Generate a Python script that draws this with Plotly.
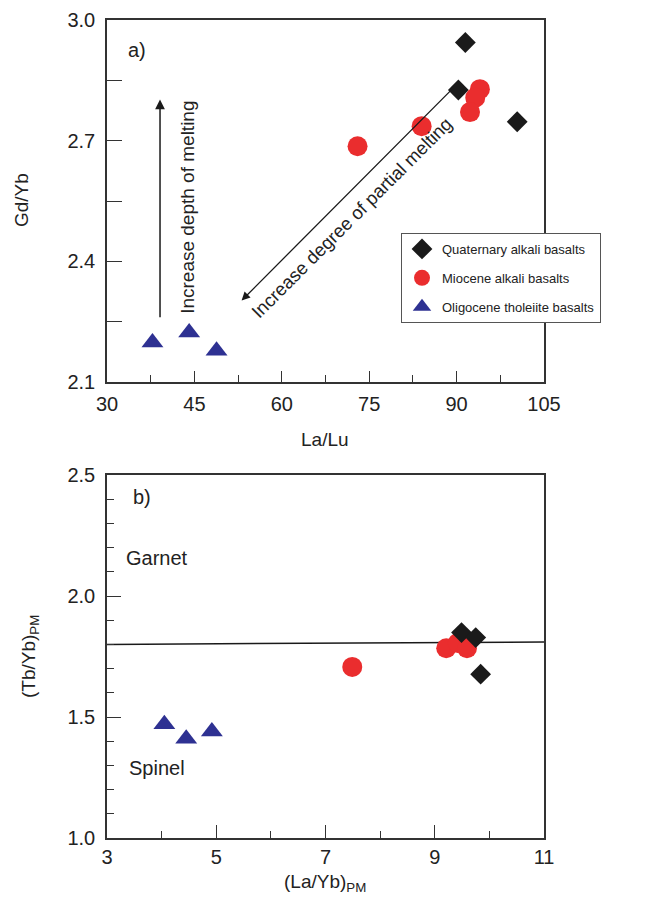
import plotly.graph_objects as go

# ---- data: panel a (La/Lu vs Gd/Yb)
qa_x = [91.5, 90.3, 100.4]
qa_y = [2.944, 2.826, 2.747]
mi_x = [94.0, 93.2, 92.3, 84.0, 73.0]
mi_y = [2.828, 2.807, 2.771, 2.736, 2.686]
ol_x = [37.8, 44.1, 48.8]
ol_y = [2.198, 2.223, 2.178]

# ---- data: panel b ((La/Yb)PM vs (Tb/Yb)PM)
qb_x = [9.49, 9.75, 9.84]
qb_y = [1.849, 1.828, 1.677]
mb_x = [7.49, 9.21, 9.42, 9.59]
mb_y = [1.707, 1.784, 1.806, 1.784]
ob_x = [4.05, 4.45, 4.92]
ob_y = [1.47, 1.41, 1.44]
line_x = [3, 11]
line_y = [1.80, 1.81]

BLACK = "#1a1a1a"
RED = "#ea2d2e"
BLUE = "#2e3192"
FONT = "Liberation Sans, Arial, sans-serif"
W, H = 671, 898
OFF = 8  # page body margin

def px(x):
    return (x - OFF) / W

def py(y):
    return 1 - (y - OFF) / H

fig = go.Figure()

# panel a
fig.add_trace(go.Scatter(x=qa_x, y=qa_y, mode="markers", name="Quaternary alkali basalts",
                         legendgroup="q",
                         marker=dict(symbol="diamond", size=16, color=BLACK), xaxis="x", yaxis="y"))
fig.add_trace(go.Scatter(x=mi_x, y=mi_y, mode="markers", name="Miocene alkali basalts",
                         legendgroup="m",
                         marker=dict(symbol="circle", size=20, color=RED), xaxis="x", yaxis="y"))
fig.add_trace(go.Scatter(x=ol_x, y=ol_y, mode="markers", name="Oligocene tholeiite basalts",
                         legendgroup="o",
                         marker=dict(symbol="triangle-up", size=19, color=BLUE), xaxis="x", yaxis="y"))

# panel b
fig.add_trace(go.Scatter(x=line_x, y=line_y, mode="lines", line=dict(color=BLACK, width=1.5),
                         showlegend=False, xaxis="x2", yaxis="y2"))
fig.add_trace(go.Scatter(x=mb_x, y=mb_y, mode="markers", showlegend=False,
                         marker=dict(symbol="circle", size=20, color=RED), xaxis="x2", yaxis="y2"))
fig.add_trace(go.Scatter(x=qb_x, y=qb_y, mode="markers", showlegend=False,
                         marker=dict(symbol="diamond", size=16, color=BLACK), xaxis="x2", yaxis="y2"))
fig.add_trace(go.Scatter(x=ob_x, y=ob_y, mode="markers", showlegend=False,
                         marker=dict(symbol="triangle-up", size=19, color=BLUE), xaxis="x2", yaxis="y2"))

axis_common = dict(showgrid=False, zeroline=False, showline=True, linecolor="#333", linewidth=1.5,
                   mirror=True, ticks="inside", tickcolor="#333", tickwidth=1.2, automargin=False,
                   tickfont=dict(family=FONT, size=20, color="#222"))

fig.update_layout(
    width=W, height=H,
    margin=dict(l=0, r=0, t=0, b=0, autoexpand=False),
    paper_bgcolor="white", plot_bgcolor="white",
    font=dict(family=FONT, color="#222"),
    xaxis=dict(axis_common, domain=[px(107), px(544)], range=[30, 105], dtick=15, tick0=30,
               ticklen=11, anchor="y", ticklabelstandoff=3,
               minor=dict(dtick=7.5, tick0=30, ticklen=7, ticks="inside", tickcolor="#333")),
    yaxis=dict(axis_common, domain=[py(382), py(20)], range=[2.1, 3.0], dtick=0.3, tick0=2.1,
               tickformat=".1f", ticklen=15, anchor="x", ticklabelstandoff=6,
               minor=dict(dtick=0.15, tick0=2.1, ticklen=15, ticks="inside", tickcolor="#333")),
    xaxis2=dict(axis_common, domain=[px(107), px(544)], range=[3, 11], dtick=2, tick0=3,
                ticklen=13, anchor="y2",
                minor=dict(dtick=1, tick0=3, ticklen=7, ticks="inside", tickcolor="#333")),
    yaxis2=dict(axis_common, domain=[py(838), py(475)], range=[1.0, 2.5], dtick=0.5, tick0=1.0,
                tickformat=".1f", ticklen=14, anchor="x2", ticklabelstandoff=6,
                minor=dict(dtick=0.1, tick0=1.0, ticklen=7, ticks="inside", tickcolor="#333")),
    legend=dict(x=px(401), y=py(233), xanchor="left", yanchor="top",
                bordercolor="#555", borderwidth=1, bgcolor="white", itemwidth=30,
                font=dict(family=FONT, size=13, color="#222"), tracegroupgap=9),
    showlegend=True,
)

def label(text, x, y, size, angle=0):
    return dict(text=text, x=px(x), y=py(y), xref="paper", yref="paper", textangle=angle,
                xanchor="center", yanchor="middle", showarrow=False,
                font=dict(size=size, family=FONT, color="#222"))

ann = []
# axis titles
ann.append(label("Gd/Yb", 22, 200, 19, -90))
ann.append(label("La/Lu", 325, 439, 19))
ann.append(label("(Tb/Yb)<sub>PM</sub>", 30, 657, 19, -90))
ann.append(label("(La/Yb)<sub>PM</sub>", 325, 883, 19))
# panel labels
ann.append(label("a)", 137, 50, 20))
ann.append(label("b)", 142, 497, 20))
ann.append(label("Garnet", 157, 558, 20))
ann.append(label("Spinel", 157, 768, 20))
# arrows
ann.append(dict(x=39.1, y=2.8025, ax=39.1, ay=2.2575, xref="x", yref="y", axref="x", ayref="y",
                text="", showarrow=True, arrowhead=2, arrowsize=1.3, arrowwidth=1.5, arrowcolor=BLACK))
ann.append(dict(x=53.1, y=2.3025, ax=89.7, ay=2.835, xref="x", yref="y", axref="x", ayref="y",
                text="", showarrow=True, arrowhead=2, arrowsize=1.3, arrowwidth=1.3, arrowcolor=BLACK))
ann.append(dict(text="Increase depth of melting", x=43.7, y=2.535, xref="x", yref="y",
                xanchor="center", yanchor="middle",
                textangle=-90, showarrow=False, font=dict(size=19, family=FONT, color="#222")))
ann.append(dict(text="Increase degree of partial melting", x=72.0, y=2.51, xref="x", yref="y",
                xanchor="center", yanchor="middle",
                textangle=-45, showarrow=False, font=dict(size=18.5, family=FONT, color="#222")))
fig.update_layout(annotations=ann)

fig.write_html("out.html")
